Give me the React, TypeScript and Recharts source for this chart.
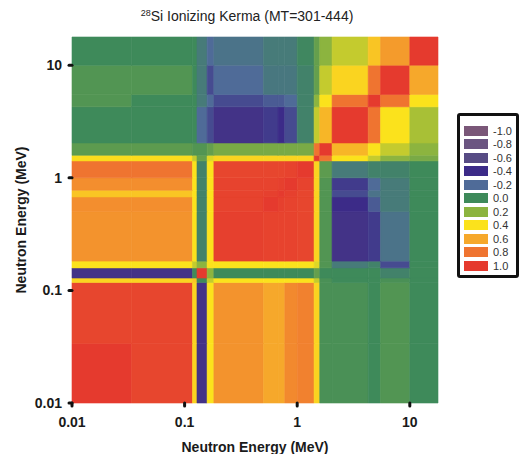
import React from 'react';
import { ScatterChart, Scatter, XAxis, YAxis, ReferenceArea } from 'recharts';

// energy group boundaries (MeV), lowest first
const energyEdges = [0.01, 0.0339, 0.1175, 0.1288, 0.1585, 0.182, 0.501, 0.676, 0.776, 1.0, 1.413, 1.585, 2.04, 4.27, 5.5, 10.0, 17.8];

const axisTicks = [0.01, 0.1, 1, 10];

const legendLevels = [-1.0, -0.8, -0.6, -0.4, -0.2, 0.0, 0.2, 0.4, 0.6, 0.8, 1.0];
const legendColors = ['#7a5778', '#6b5581', '#574b84', '#3c2b88', '#4f6b98', '#3e8a5a', '#8cb43f', '#fbe21c', '#f6a82b', '#ef7430', '#e53a2e'];

// correlation rows, bottom (low energy) to top; columns left to right
const row00 = [1.0, 0.96, 0.45, -0.45, 0.4, 0.68, 0.6, 0.6, 0.72, 0.75, 0.45, 0.03, 0.03, 0.0, 0.05, 0.0];
const row01 = [0.96, 0.96, 0.45, -0.45, 0.4, 0.68, 0.6, 0.6, 0.72, 0.75, 0.45, 0.03, 0.03, 0.0, 0.05, 0.0];
const row02 = [0.45, 0.45, 0.5, 0.0, 0.3, 0.4, 0.4, 0.4, 0.4, 0.4, 0.3, 0.03, 0.0, 0.0, 0.03, 0.0];
const row03 = [-0.45, -0.45, 0.0, 1.0, 0.2, 0.0, 0.0, 0.0, 0.0, 0.0, 0.1, 0.0, 0.0, 0.0, -0.05, 0.0];
const row04 = [0.4, 0.4, 0.3, 0.2, 0.4, 0.4, 0.4, 0.4, 0.4, 0.4, 0.35, 0.05, -0.1, -0.05, -0.3, 0.0];
const row05 = [0.68, 0.68, 0.4, -0.05, 0.4, 0.98, 0.97, 0.97, 0.97, 0.96, 0.45, 0.05, -0.45, -0.35, -0.15, 0.0];
const row06 = [0.7, 0.7, 0.4, -0.05, 0.4, 0.97, 1.0, 0.98, 0.97, 0.96, 0.45, 0.05, -0.4, -0.25, -0.1, 0.0];
const row07 = [0.5, 0.5, 0.4, -0.05, 0.4, 0.97, 0.98, 1.0, 0.98, 0.96, 0.45, 0.05, -0.3, -0.15, -0.1, 0.0];
const row08 = [0.7, 0.7, 0.4, -0.05, 0.4, 0.97, 0.97, 0.98, 1.0, 0.97, 0.45, 0.05, -0.35, -0.2, -0.1, 0.0];
const row09 = [0.8, 0.8, 0.4, -0.05, 0.4, 0.96, 0.96, 0.96, 0.97, 1.0, 0.45, 0.08, -0.1, -0.05, -0.05, 0.0];
const row10 = [0.42, 0.42, 0.3, 0.1, 0.35, 0.45, 0.45, 0.45, 0.45, 0.45, 1.0, 0.8, 0.4, 0.3, 0.2, 0.15];
const row11 = [0.08, 0.08, 0.05, 0.05, 0.1, 0.15, 0.15, 0.15, 0.15, 0.15, 0.8, 1.0, 0.55, 0.4, 0.3, 0.2];
const row12 = [0.0, 0.0, 0.0, -0.2, -0.3, -0.45, -0.35, -0.4, -0.3, -0.05, 0.3, 0.55, 1.0, 0.8, 0.4, 0.25];
const row13 = [0.05, 0.0, 0.0, -0.1, -0.2, -0.3, -0.25, -0.25, -0.2, -0.05, 0.2, 0.4, 0.8, 1.0, 0.8, 0.4];
const row14 = [0.05, 0.05, 0.0, -0.1, -0.3, -0.2, -0.12, -0.12, -0.12, -0.05, 0.1, 0.3, 0.45, 0.8, 1.0, 0.6];
const row15 = [0.0, 0.0, 0.0, -0.1, -0.2, -0.15, -0.1, -0.1, -0.1, -0.02, 0.1, 0.2, 0.3, 0.5, 0.65, 1.0];

const corrRows = [row00, row01, row02, row03, row04, row05, row06, row07, row08, row09, row10, row11, row12, row13, row14, row15];

function hexToRgb(h: string) {
  return [1, 3, 5].map((i) => parseInt(h.slice(i, i + 2), 16));
}

// colour scale: blend between the legend colours
function colorFor(v: number) {
  const c = Math.max(-1, Math.min(1, v));
  let i = 0;
  while (i < legendLevels.length - 2 && c > legendLevels[i + 1]) i++;
  const t = (c - legendLevels[i]) / (legendLevels[i + 1] - legendLevels[i]);
  const a = hexToRgb(legendColors[i]);
  const b = hexToRgb(legendColors[i + 1]);
  const m = a.map((x, k) => Math.round(x + (b[k] - x) * t));
  return `rgb(${m[0]},${m[1]},${m[2]})`;
}

const cells = corrRows.flatMap((row, i) =>
  row.map((value, j) => ({
    x1: energyEdges[j],
    x2: energyEdges[j + 1],
    y1: energyEdges[i],
    y2: energyEdges[i + 1],
    value,
  }))
);

const centers = cells.map((c) => ({ x: Math.sqrt(c.x1 * c.x2), y: Math.sqrt(c.y1 * c.y2) }));

const tickStyle = { fill: '#1a1a1a', fontSize: 14, fontWeight: 'bold' as const };
const fontFamily = '"Liberation Sans", Arial, sans-serif';

function ColorKey() {
  return (
    <div
      style={{
        position: 'absolute',
        left: 457,
        top: 113,
        width: 62,
        height: 165,
        border: '3px solid #111',
        borderRadius: 3,
        boxSizing: 'border-box',
        background: '#fff',
        paddingTop: 8,
        paddingLeft: 4,
      }}
    >
      {legendLevels.map((lv, k) => (
        <div key={lv} style={{ display: 'flex', alignItems: 'center', height: 13.5 }}>
          <div style={{ width: 24, height: 10, background: legendColors[k] }} />
          <span style={{ marginLeft: 5, fontSize: 11, color: '#333' }}>{lv.toFixed(1)}</span>
        </div>
      ))}
    </div>
  );
}

export default function App() {
  return (
    <div style={{ position: 'absolute', left: 0, top: 0, width: 519, height: 454, background: '#fff', fontFamily }}>
      <ScatterChart width={519} height={454} margin={{ top: 37, right: 81, bottom: 0, left: 0 }}>
        <XAxis
          type="number"
          dataKey="x"
          scale="log"
          domain={[0.01, 17.8]}
          allowDataOverflow
          ticks={axisTicks}
          tickFormatter={(v: number) => String(v)}
          height={51}
          axisLine={false}
          tickSize={3}
          tickMargin={11}
          tickLine={{ stroke: '#111', strokeWidth: 3, strokeLinecap: 'round' }}
          tick={tickStyle}
          label={{
            content: ({ viewBox }: any) => (
              <text
                x={viewBox.x + viewBox.width / 2}
                y={viewBox.y + 49}
                textAnchor="middle"
                fontSize={14}
                fontWeight="bold"
                fill="#1a1a1a"
              >
                Neutron Energy (MeV)
              </text>
            ),
          }}
        />
        <YAxis
          type="number"
          dataKey="y"
          scale="log"
          domain={[0.01, 17.8]}
          allowDataOverflow
          ticks={axisTicks}
          tickFormatter={(v: number) => String(v)}
          width={72}
          axisLine={false}
          tickSize={3}
          tickMargin={7}
          tickLine={{ stroke: '#111', strokeWidth: 3, strokeLinecap: 'round' }}
          tick={tickStyle}
          label={{
            content: ({ viewBox }: any) => {
              const cx = 26;
              const cy = viewBox.y + viewBox.height / 2;
              return (
                <text
                  x={cx}
                  y={cy}
                  transform={`rotate(-90 ${cx} ${cy})`}
                  textAnchor="middle"
                  fontSize={14}
                  fontWeight="bold"
                  fill="#1a1a1a"
                >
                  Neutron Energy (MeV)
                </text>
              );
            },
          }}
        />
        {cells.map((c, k) => {
          const fill = colorFor(c.value);
          return (
            <ReferenceArea
              key={k}
              x1={c.x1}
              x2={c.x2}
              y1={c.y1}
              y2={c.y2}
              fill={fill}
              fillOpacity={1}
              stroke={fill}
              strokeWidth={0.6}
            />
          );
        })}
        <Scatter data={centers} isAnimationActive={false} shape={() => <g />} />
      </ScatterChart>
      <div style={{ position: 'absolute', left: 0, top: 8, width: 494, textAlign: 'center', fontSize: 14, lineHeight: '16px', color: '#222' }}>
        <span style={{ fontSize: 9, position: 'relative', top: -5 }}>28</span>Si Ionizing Kerma (MT=301-444)
      </div>
      <ColorKey />
    </div>
  );
}
